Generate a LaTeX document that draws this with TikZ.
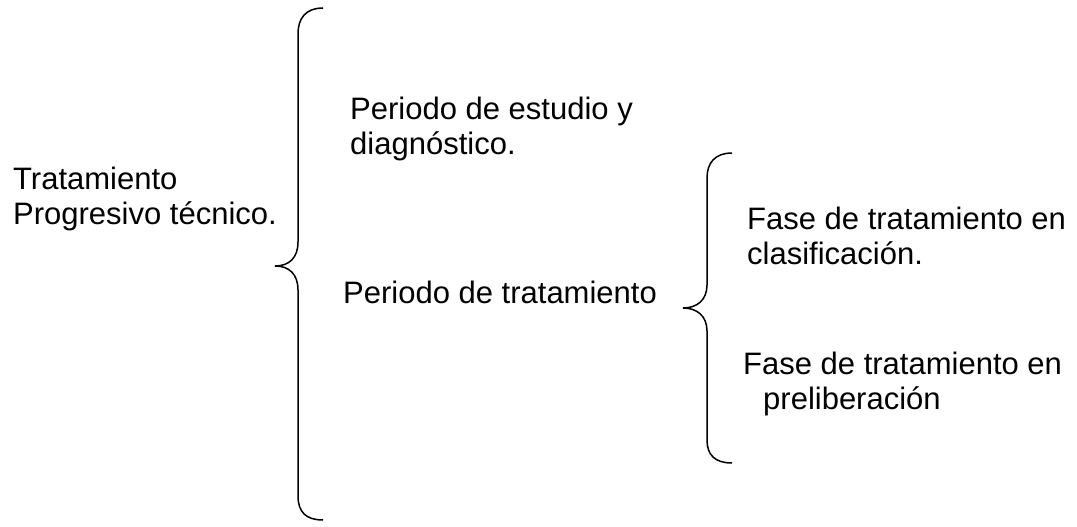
\documentclass[tikz,border=0pt]{standalone}
\usepackage{fontspec}
\setmainfont{Liberation Sans}
\usepackage{tikz}
\usetikzlibrary{positioning,calc}

\begin{document}
\begin{tikzpicture}[x=1pt, y=-1pt,
            every node/.style={font=\fontsize{31}{35}\selectfont, align=left,
                               inner sep=0pt, anchor=north west},
            brace/.style={draw, line width=1.5pt}]
        \useasboundingbox (0,0) rectangle (1077,527);

        % labels
        \node (tratamiento) at (13,167) {Tratamiento\\Progresivo técnico.};
        \node (estudio) at (350,97) {Periodo de estudio y\\diagnóstico.};
        \node (periodo) at (343,281) {Periodo de tratamiento};
        \node (clasif) at (747,207) {Fase de tratamiento en\\clasificación.};
        \node (prelib) at (743,352) {Fase de tratamiento en\\\hspace*{20pt}preliberación};

        % big brace
        \coordinate (tipA) at (275,266);
        \draw[brace] (323,8) .. controls (306,8) and (298,18) .. (298,34) -- (298,242)
              .. controls (298,258) and (289,266) .. (tipA)
              .. controls (289,266) and (298,274) .. (298,290) -- (298,496)
              .. controls (298,512) and (306,520) .. (323,520);

        % small brace
        \coordinate (tipB) at (683,308);
        \draw[brace] (732,153) .. controls (715,153) and (707,163) .. (707,178) -- (707,285)
              .. controls (707,300) and (697,308) .. (tipB)
              .. controls (697,308) and (707,316) .. (707,331) -- (707,440)
              .. controls (707,455) and (715,463) .. (732,463);
\end{tikzpicture}
\end{document}
